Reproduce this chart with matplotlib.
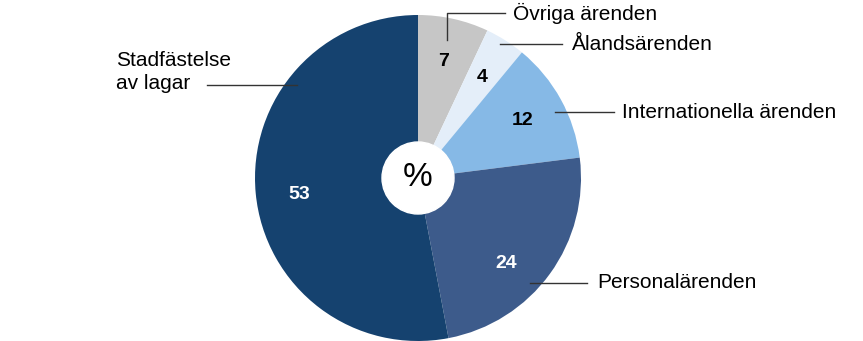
import matplotlib.pyplot as plt

categories = ["Övriga ärenden", "Ålandsärenden", "Internationella ärenden",
              "Personalärenden", "Stadfästelse\nav lagar"]
values = [7, 4, 12, 24, 53]
colors = ["#C6C6C6", "#E4EEF9", "#86B9E6", "#3D5B8B", "#15426F"]
value_colors = ["black", "black", "black", "white", "white"]

W, H = 863, 341


def py(y):
    # pixel row (from top) -> axis y
    return H - y


def main():
    plt.rcParams['font.family'] = ['Liberation Sans', 'DejaVu Sans']
    fig = plt.figure(figsize=(W / 100, H / 100), dpi=100)
    ax = fig.add_axes([0, 0, 1, 1])

    cx, cy, r = 418, py(178), 163
    wedges, _, autotexts = ax.pie(
        values, colors=colors, startangle=90, counterclock=False,
        center=(cx, cy), radius=r, autopct=lambda p: f"{p:.0f}",
        pctdistance=0.73, wedgeprops=dict(linewidth=0),
        textprops=dict(fontsize=14, fontweight='bold'))
    for t, c in zip(autotexts, value_colors):
        t.set_color(c)
    # nudge the two lower labels a little
    x, y = autotexts[3].get_position()
    autotexts[3].set_position((x - 8, y - 16))
    x, y = autotexts[4].get_position()
    autotexts[4].set_position((x, y - 5))

    ax.add_patch(plt.Circle((cx, cy), 36, color="white", zorder=3))
    ax.text(cx, cy, "%", fontsize=24, ha='center', va='center', zorder=4)

    # leader lines and category labels
    lw = 1.0
    ax.plot([447, 447, 505], [py(40), py(13), py(13)], color="#333333", lw=lw)
    ax.text(513, py(13), categories[0], fontsize=15, va='center')
    ax.plot([500, 562], [py(44), py(44)], color="#333333", lw=lw)
    ax.text(572, py(44), categories[1], fontsize=15, va='center')
    ax.plot([555, 614], [py(112), py(112)], color="#333333", lw=lw)
    ax.text(622, py(112), categories[2], fontsize=15, va='center')
    ax.plot([530, 587], [py(283), py(283)], color="#333333", lw=lw)
    ax.text(597, py(283), categories[3], fontsize=15, va='center')
    ax.plot([207, 297], [py(85), py(85)], color="#333333", lw=lw, zorder=3)
    ax.text(116, py(72), categories[4], fontsize=15, va='center',
            linespacing=1.3)

    ax.set_xlim(0, W)
    ax.set_ylim(0, H)
    ax.set_aspect('equal')
    ax.axis('off')

    fig.savefig("out.png", dpi=100)


if __name__ == "__main__":
    main()
